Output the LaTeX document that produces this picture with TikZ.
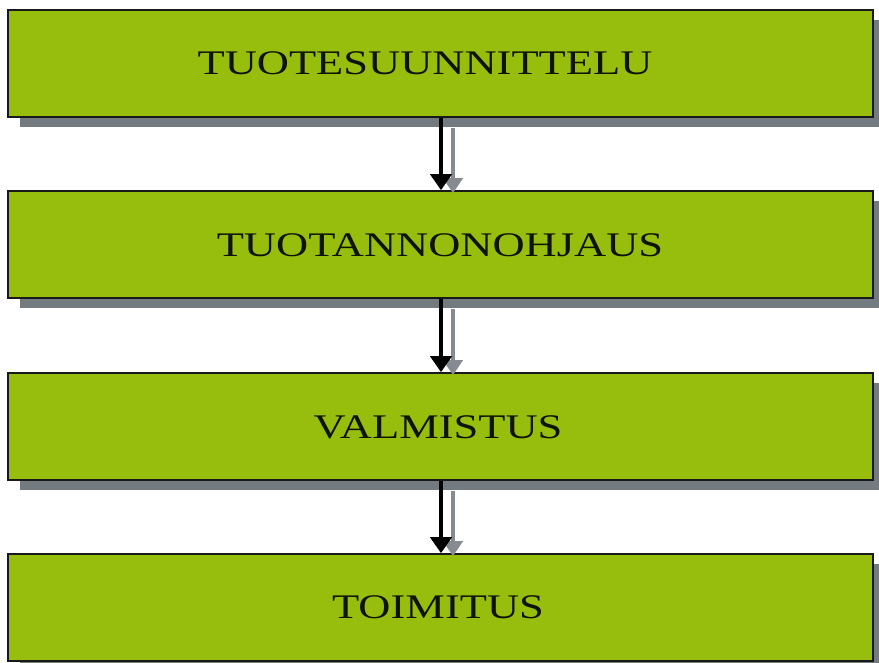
\documentclass[tikz,border=0pt]{standalone}
\usepackage{fontspec}
\setmainfont{Liberation Serif}
\usetikzlibrary{arrows.meta,shadows}
\definecolor{stepgreen}{HTML}{97BE0D}
\definecolor{shadowgray}{HTML}{737A80}
\definecolor{arrowgray}{HTML}{858B91}
\tikzset{
  stepbox/.style={draw=black!90, line width=1.6pt, fill=stepgreen,
    minimum width=865pt, minimum height=107pt, inner sep=0pt,
    drop shadow={shadow xshift=12pt, shadow yshift=-10pt, fill=shadowgray, opacity=1}},
  steplabel/.style={font=\fontsize{34.5}{40}\selectfont, text=black!90!stepgreen},
  flow/.style={line width=4.2pt, black, -{Triangle[width=21pt,length=16pt]}},
  flowshadow/.style={line width=3.8pt, arrowgray, -{Triangle[width=19pt,length=15pt]}}
}
\newcommand{\widetext}[1]{\scalebox{1.29}[1]{#1}}
\begin{document}
\begin{tikzpicture}[x=1pt,y=-1pt]
  \useasboundingbox (0,0) rectangle (879,663);
  % the four process stages
  \node[stepbox] (b1) at (440.5,63.5) {};
  \node[stepbox] (b2) at (440.5,244.5) {};
  \node[stepbox] (b3) at (440.5,426.5) {};
  \node[stepbox] (b4) at (440.5,607.5) {};
  \node[steplabel] (t1) at (425,63) {\widetext{TUOTESUUNNITTELU}};
  \node[steplabel] (t2) at (440,245) {\widetext{TUOTANNONOHJAUS}};
  \node[steplabel] (t3) at (438,427) {\widetext{VALMISTUS}};
  \node[steplabel] (t4) at (438,607) {\widetext{TOIMITUS}};
  % connectors with their shadows
  \foreach \a/\b in {b1/b2,b2/b3,b3/b4}{
    \draw[flowshadow] ([xshift=12.5pt,yshift=-10pt]\a.south) -- ([xshift=12.5pt,yshift=-3pt]\b.north);
    \draw[flow] ([xshift=0.5pt]\a.south) -- ([xshift=0.5pt]\b.north);
  }
\end{tikzpicture}
\end{document}
